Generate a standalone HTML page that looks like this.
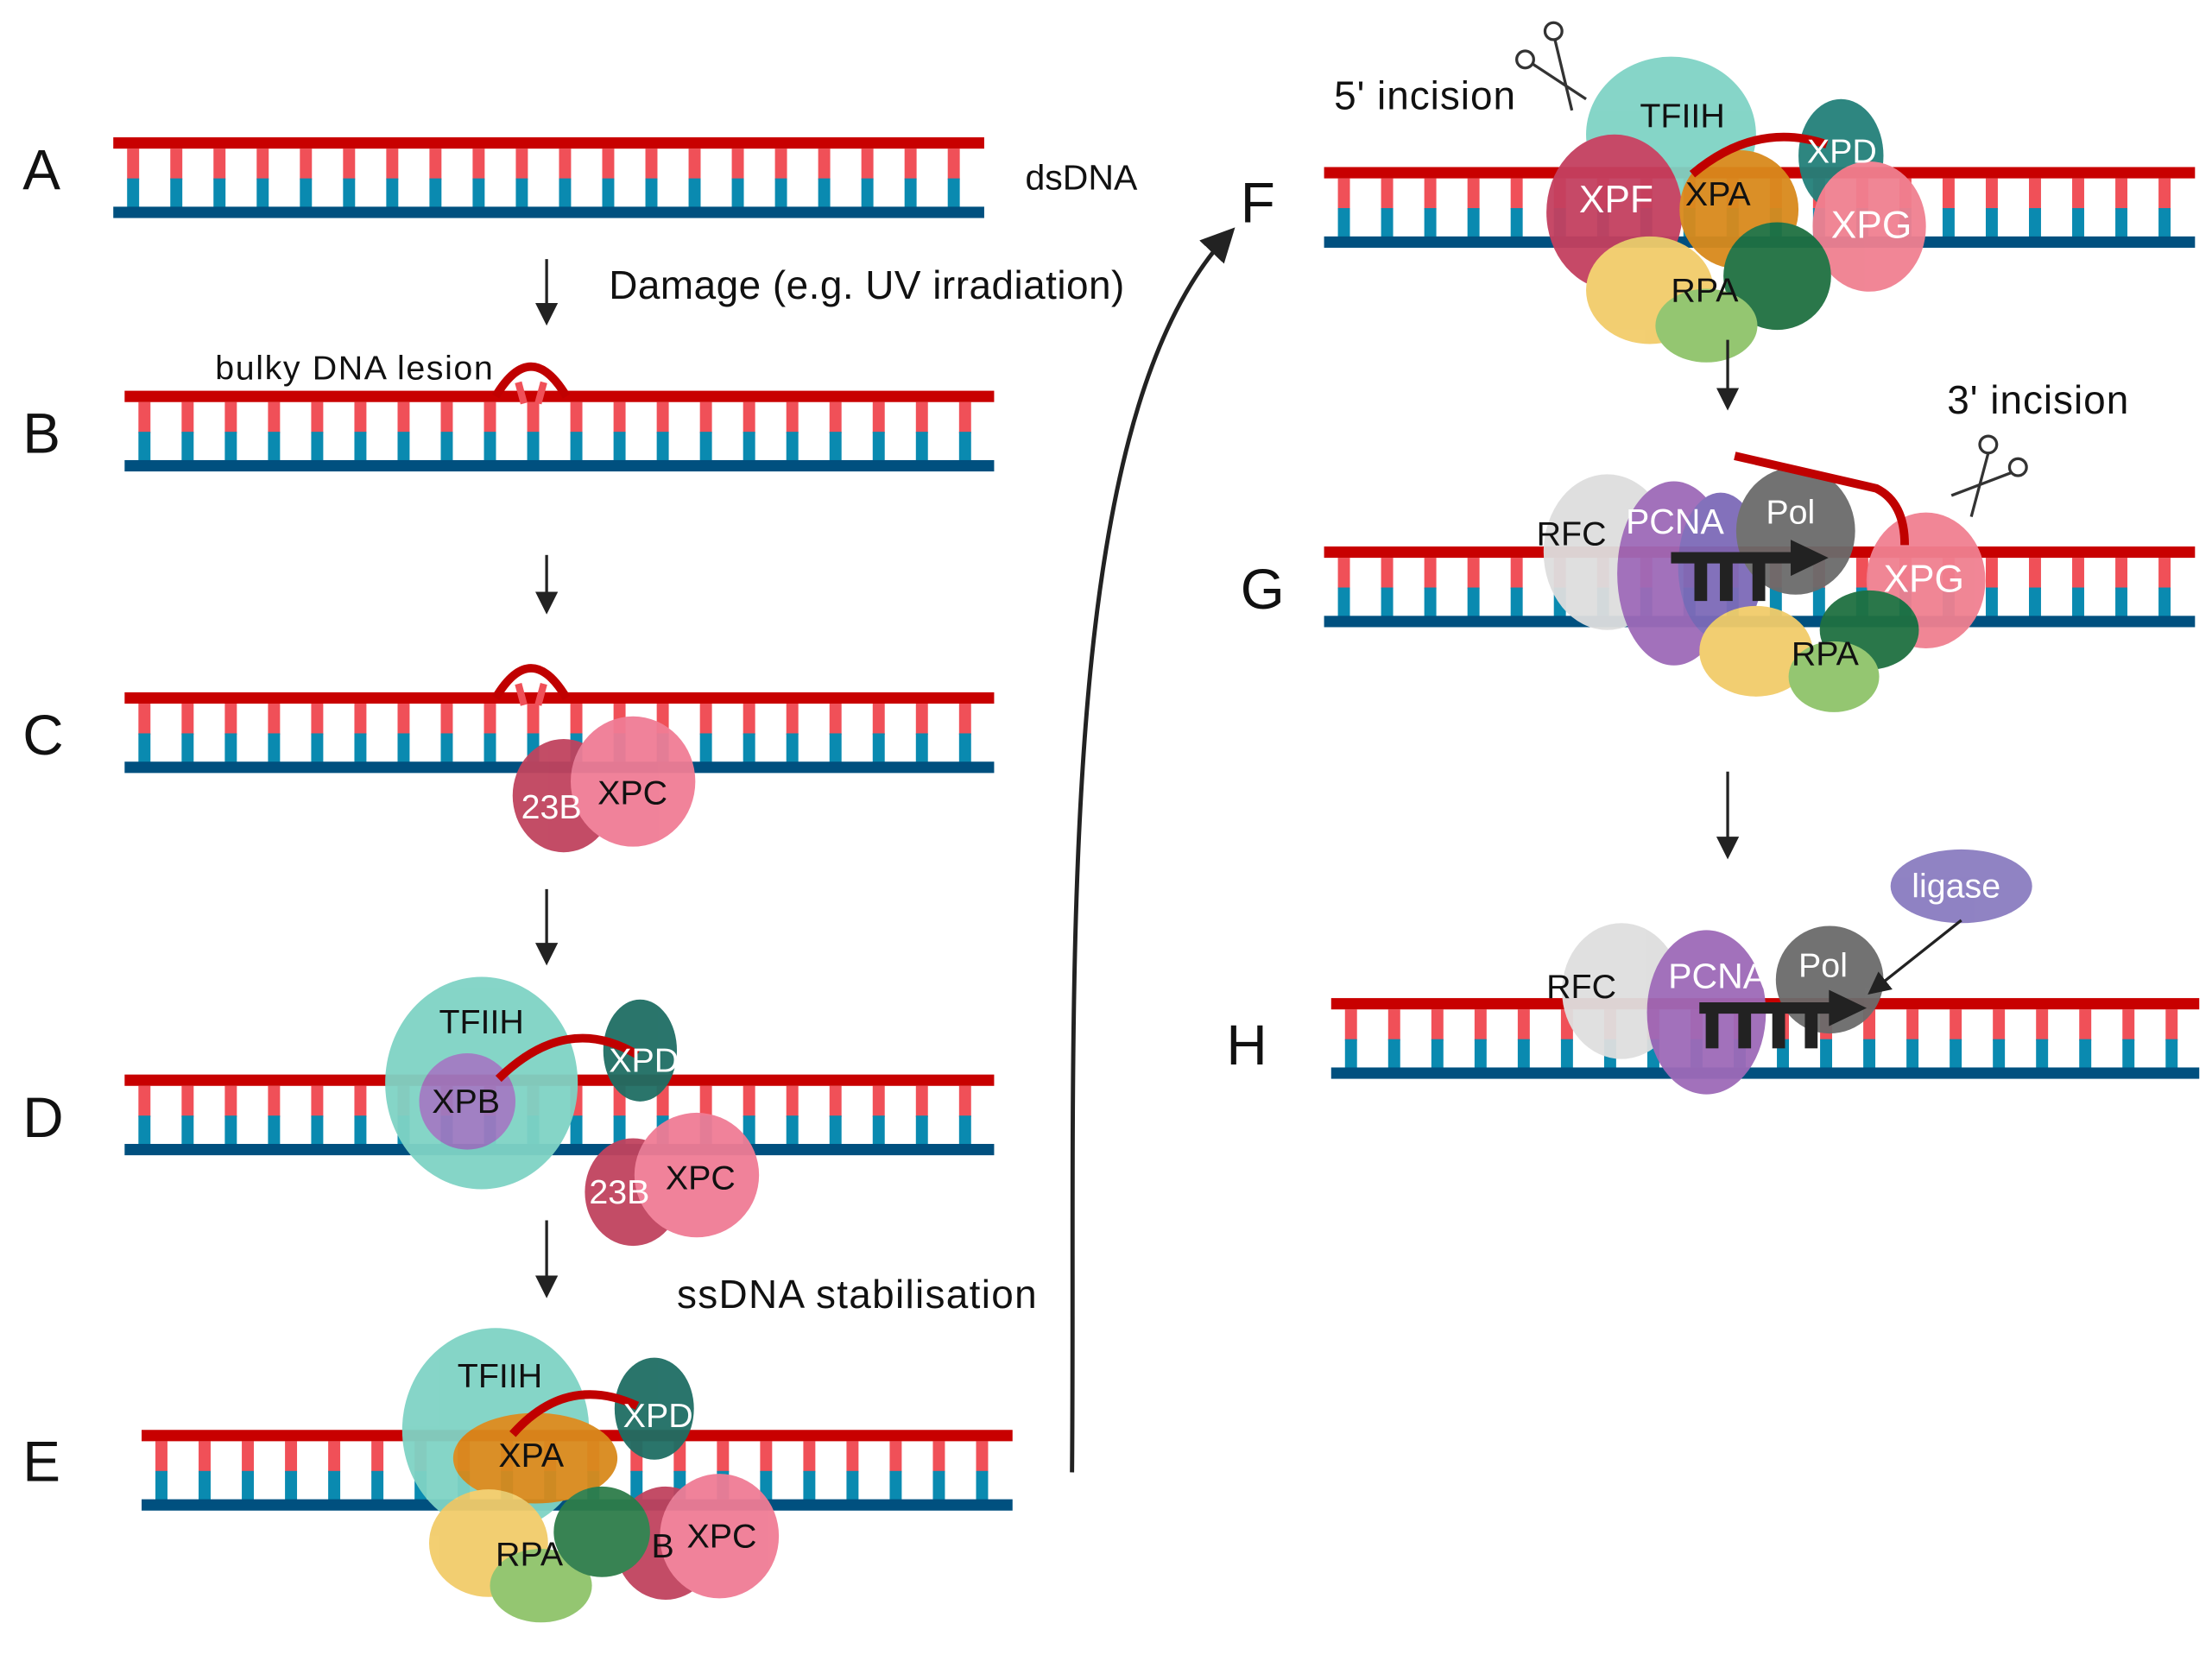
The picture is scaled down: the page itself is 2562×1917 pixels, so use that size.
<!DOCTYPE html>
<html><head><meta charset="utf-8"><style>
html,body{margin:0;padding:0;background:#fff;}
svg{display:block;}
text{font-family:"Liberation Sans",sans-serif;}
</style></head><body>
<svg id="s" width="2562" height="1917" viewBox="0 0 1562 1169" preserveAspectRatio="none" xmlns="http://www.w3.org/2000/svg">
<defs>
<marker id="ah" markerWidth="8" markerHeight="8" refX="6" refY="4" orient="auto" markerUnits="strokeWidth"><path d="M0,0 L8,4 L0,8 Z" fill="#222"/></marker>
</defs>
<g id="dna"></g>
<g id="prot" opacity="0.95">
<ellipse cx="398" cy="562" rx="36" ry="40" fill="#c0435e"/>
<ellipse cx="447" cy="552" rx="44" ry="46" fill="#f07c95"/>
<ellipse cx="340" cy="765" rx="68" ry="75" fill="#7fd3c5"/>
<ellipse cx="330" cy="778" rx="34" ry="34" fill="#9d7ac0"/>
<ellipse cx="452" cy="742" rx="26" ry="36" fill="#1f6e64"/>
<ellipse cx="447" cy="842" rx="34" ry="38" fill="#c0435e"/>
<ellipse cx="492" cy="830" rx="44" ry="44" fill="#f07c95"/>
<ellipse cx="350" cy="1010" rx="66" ry="72" fill="#7fd3c5"/>
<ellipse cx="462" cy="995" rx="28" ry="36" fill="#1f6e64"/>
<ellipse cx="470" cy="1090" rx="36" ry="40" fill="#c0435e"/>
<ellipse cx="508" cy="1085" rx="42" ry="44" fill="#f07c95"/>
<ellipse cx="378" cy="1030" rx="58" ry="32" fill="#d98a1c"/>
<ellipse cx="345" cy="1090" rx="42" ry="38" fill="#f2cc6a"/>
<ellipse cx="382" cy="1120" rx="36" ry="26" fill="#8fc46a"/>
<ellipse cx="425" cy="1082" rx="34" ry="32" fill="#2e7d4a"/>
<ellipse cx="1180" cy="95" rx="60" ry="55" fill="#7fd3c5"/>
<ellipse cx="1300" cy="110" rx="30" ry="40" fill="#23807a"/>
<ellipse cx="1140" cy="150" rx="48" ry="55" fill="#c4405f"/>
<ellipse cx="1228" cy="148" rx="42" ry="42" fill="#d98a1c"/>
<ellipse cx="1320" cy="160" rx="40" ry="46" fill="#f08090"/>
<ellipse cx="1165" cy="205" rx="45" ry="38" fill="#f2cc6a"/>
<ellipse cx="1255" cy="195" rx="38" ry="38" fill="#1f7041"/>
<ellipse cx="1205" cy="230" rx="36" ry="26" fill="#8fc46a"/>
<ellipse cx="1135" cy="390" rx="45" ry="55" fill="#dedede"/>
<ellipse cx="1182" cy="405" rx="40" ry="65" fill="#9e6ab8"/>
<ellipse cx="1215" cy="400" rx="30" ry="52" fill="#7d6ab8"/>
<ellipse cx="1268" cy="375" rx="42" ry="45" fill="#6b6b6b"/>
<ellipse cx="1360" cy="410" rx="42" ry="48" fill="#f08090"/>
<ellipse cx="1320" cy="445" rx="35" ry="28" fill="#1f7041"/>
<ellipse cx="1240" cy="460" rx="40" ry="32" fill="#f2cc6a"/>
<ellipse cx="1295" cy="478" rx="32" ry="25" fill="#8fc46a"/>
<ellipse cx="1145" cy="700" rx="42" ry="48" fill="#dedede"/>
<ellipse cx="1205" cy="715" rx="42" ry="58" fill="#9e6ab8"/>
<ellipse cx="1292" cy="692" rx="38" ry="38" fill="#6b6b6b"/>
<ellipse cx="1385" cy="626" rx="50" ry="26" fill="#8a7cc0"/>
</g>
<g fill="none" stroke="#c00000" stroke-width="6">
<path d="M350,280 Q375,238 400,280"/>
<path d="M350,493 Q375,451 400,493"/>
<path d="M352,762 Q400,715 450,745"/>
<path d="M362,1013 Q400,970 450,993"/>
<path d="M1195,123 Q1240,85 1290,102"/>
<path d="M1225,322 L1325,345 Q1345,355 1345,385"/>
</g>
<g stroke="#f05058" stroke-width="5">
<line x1="366" y1="270" x2="370" y2="285"/><line x1="384" y1="270" x2="380" y2="285"/>
<line x1="366" y1="483" x2="370" y2="498"/><line x1="384" y1="483" x2="380" y2="498"/>
</g>
<g stroke="#222" fill="#222">
<line x1="1180" y1="394" x2="1268" y2="394" stroke-width="8"/>
<path d="M1265,382 L1290,394 L1265,406 Z"/>
<rect x="1197" y="394" width="8" height="30"/><rect x="1215" y="394" width="8" height="30"/><rect x="1238" y="394" width="8" height="30"/>
<line x1="1200" y1="712" x2="1295" y2="712" stroke-width="8"/>
<path d="M1292,700 L1317,712 L1292,724 Z"/>
<rect x="1205" y="712" width="8" height="28"/><rect x="1228" y="712" width="8" height="28"/><rect x="1252" y="712" width="8" height="28"/><rect x="1275" y="712" width="8" height="28"/>
</g>
<line x1="1385" y1="650" x2="1322" y2="700" stroke="#222" stroke-width="2" marker-end="url(#ah)"/>
<g stroke="#222" stroke-width="2" marker-end="url(#ah)" fill="none">
<line x1="386" y1="183" x2="386" y2="226"/>
<line x1="386" y1="392" x2="386" y2="430"/>
<line x1="386" y1="628" x2="386" y2="678"/>
<line x1="386" y1="862" x2="386" y2="913"/>
<line x1="1220" y1="240" x2="1220" y2="286"/>
<line x1="1220" y1="545" x2="1220" y2="603"/>
<path d="M757,1040 C760,700 740,300 868,165" stroke-width="3"/>
</g>
<g stroke="#333" stroke-width="2" fill="none">
<circle cx="1077" cy="42" r="6"/><circle cx="1097" cy="22" r="6"/>
<line x1="1082" y1="45" x2="1120" y2="70"/><line x1="1098" y1="28" x2="1110" y2="78"/>
<circle cx="1425" cy="330" r="6"/><circle cx="1404" cy="314" r="6"/>
<line x1="1420" y1="334" x2="1378" y2="350"/><line x1="1404" y1="320" x2="1392" y2="365"/>
</g>
<g font-size="40" fill="#111">
<text x="16" y="134">A</text><text x="16" y="320">B</text><text x="16" y="533">C</text>
<text x="16" y="803">D</text><text x="16" y="1046">E</text><text x="876" y="157">F</text>
<text x="876" y="430">G</text><text x="866" y="752">H</text>
</g>
<g font-size="28" fill="#111">
<text x="724" y="134" font-size="25">dsDNA</text>
<text x="430" y="211" textLength="364">Damage (e.g. UV irradiation)</text>
<text x="152" y="268" font-size="24" textLength="196">bulky DNA lesion</text>
<text x="478" y="924" textLength="254">ssDNA stabilisation</text>
<text x="942" y="77" textLength="128">5' incision</text>
<text x="1375" y="292" textLength="128">3' incision</text>
</g>
<g font-size="24">
<text x="368" y="578" fill="#fff">23B</text><text x="422" y="568" fill="#111">XPC</text>
<text x="310" y="730" fill="#111">TFIIH</text><text x="305" y="786" fill="#111">XPB</text><text x="430" y="757" fill="#fff">XPD</text>
<text x="416" y="850" fill="#fff">23B</text><text x="470" y="840" fill="#111">XPC</text>
<text x="323" y="980" fill="#111">TFIIH</text><text x="440" y="1008" fill="#fff">XPD</text><text x="352" y="1036" fill="#111">XPA</text>
<text x="350" y="1106" fill="#111">RPA</text><text x="460" y="1100" fill="#111">B</text><text x="485" y="1093" fill="#111">XPC</text>
<text x="1158" y="90" fill="#111">TFIIH</text><text x="1276" y="115" fill="#fff">XPD</text>
<text x="1115" y="150" fill="#fff" font-size="27">XPF</text><text x="1190" y="145" fill="#111">XPA</text>
<text x="1293" y="168" fill="#fff" font-size="27">XPG</text><text x="1180" y="213" fill="#111">RPA</text>
<text x="1085" y="385" fill="#111">RFC</text><text x="1148" y="377" fill="#fff" font-size="25">PCNA</text>
<text x="1247" y="370" fill="#fff">Pol</text><text x="1330" y="418" fill="#fff" font-size="27">XPG</text>
<text x="1265" y="470" fill="#111">RPA</text>
<text x="1092" y="705" fill="#111">RFC</text><text x="1178" y="698" fill="#fff" font-size="25">PCNA</text>
<text x="1270" y="690" fill="#fff">Pol</text><text x="1350" y="634" fill="#fff">ligase</text>
</g>
</svg>
<script>
var rows=[[80,695,101],[88,702,280],[88,702,493],[88,702,763],[100,715,1014],[935,1550,122],[935,1550,390],[940,1553,709]];
var g=document.getElementById('dna'),h='';
rows.forEach(function(r){var x0=r[0],x1=r[1],y=r[2];
 for(var x=x0+14;x<x1-6;x+=30.5){h+='<rect x="'+(x-4.25)+'" y="'+(y+4)+'" width="8.5" height="22" fill="#f05058"/><rect x="'+(x-4.25)+'" y="'+(y+25)+'" width="8.5" height="21" fill="#0a8ab0"/>';}
 h+='<rect x="'+x0+'" y="'+(y-4)+'" width="'+(x1-x0)+'" height="8" fill="#c80000"/><rect x="'+x0+'" y="'+(y+45)+'" width="'+(x1-x0)+'" height="8" fill="#00507f"/>';});
g.innerHTML=h;
</script>
</body></html>
